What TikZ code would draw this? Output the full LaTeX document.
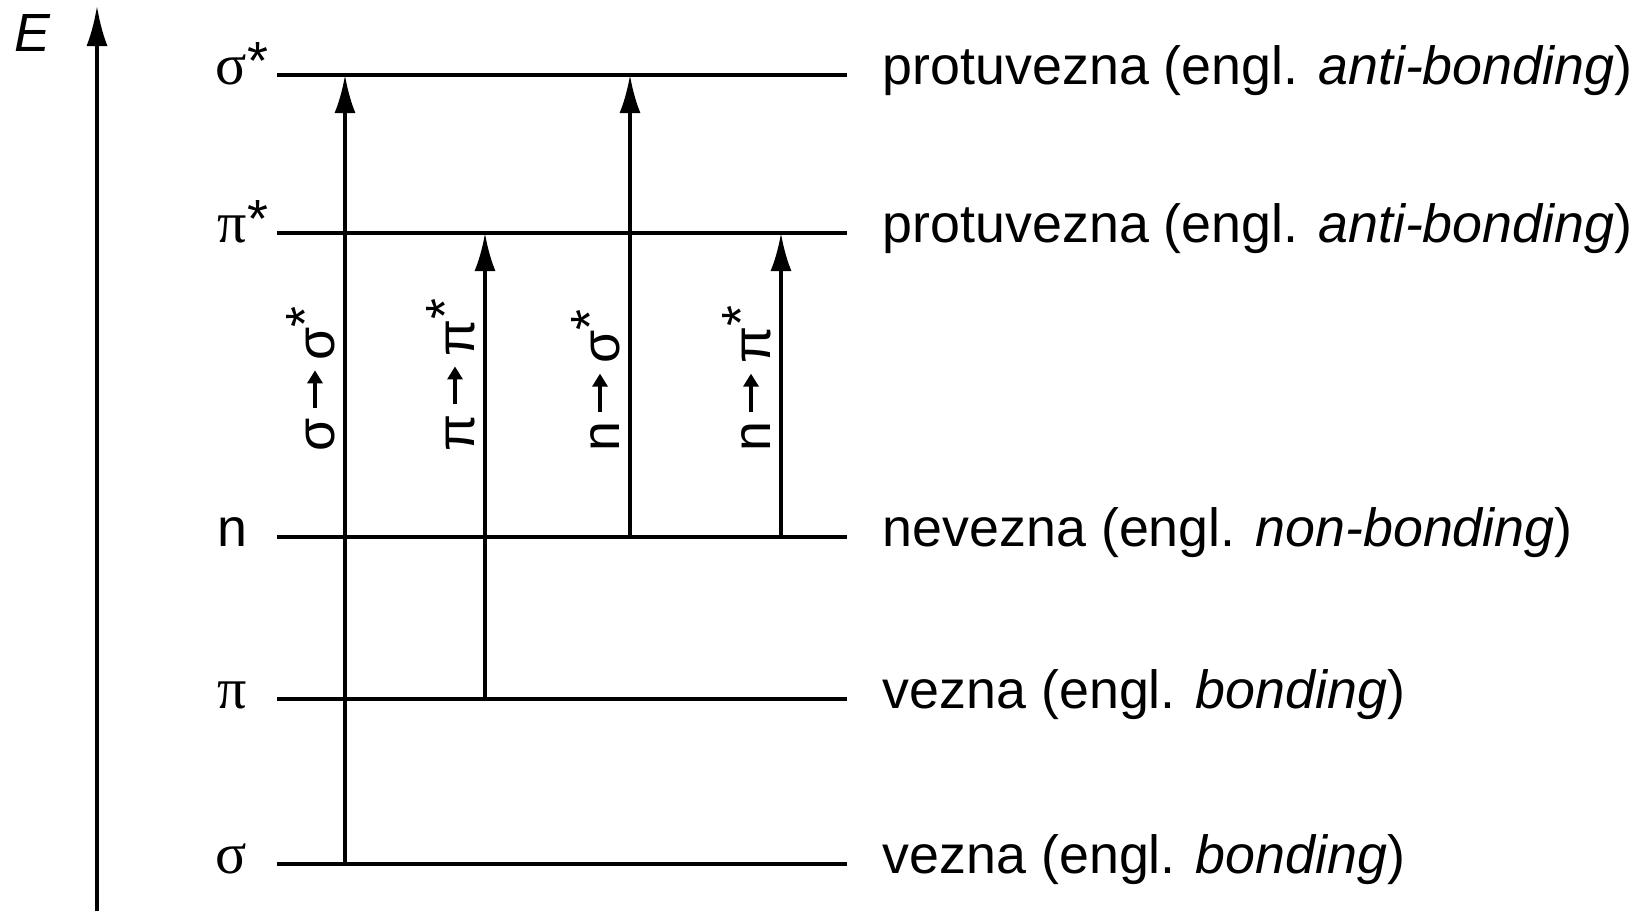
\documentclass[tikz,border=0pt]{standalone}
\usepackage{fontspec}
\setmainfont{Liberation Sans}
\newfontfamily\grk[Scale=1.08]{Liberation Serif}
\usetikzlibrary{arrows.meta}
\newcommand\uparr{\kern0.08cm\tikz[baseline=-0.19cm]\draw[line width=1pt,-{Triangle[length=1.3mm,width=1.5mm]}] (0,0) -- (0.38,0);\kern0.08cm}

\begin{document}
\begin{tikzpicture}[font=\fontsize{15.3}{18}\selectfont,
	lev/.style={line width=1.1pt},
	trans/.style={line width=1pt,-{Latex[length=3.8mm,width=2.1mm]}},
	sym/.style={anchor=mid east,inner sep=0pt,xshift=-2.9mm},
	txt/.style={anchor=mid west,inner sep=0pt,xshift=3.4mm},
	rot/.style={rotate=90,anchor=base west,inner sep=0pt}]
					\useasboundingbox (0,0) rectangle (16.39,9.11);
					\coordinate(top) at (0.97,9.05);
					\coordinate(bot) at (0.97,0);
					\draw[trans,-{Latex[length=4mm,width=2.1mm]}] (bot) -- (top);
					\node(E)[inner sep=0pt] at (0.32,8.78) {\itshape E};
					\coordinate(ss) at (2.77,8.36);
					\coordinate(pp) at (2.77,6.78);
					\coordinate(n) at (2.77,3.74);
					\coordinate(p) at (2.77,2.12);
					\coordinate(s) at (2.77,0.47);
					\draw[lev] (ss) -- ++(5.7,0) node(ssT)[txt] {protuvezna (engl. \textit{anti-bonding})};
					\draw[lev] (pp) -- ++(5.7,0) node(ppT)[txt] {protuvezna (engl. \textit{anti-bonding})};
					\draw[lev] (n) -- ++(5.7,0) node(nT)[txt] {nevezna (engl. \textit{non-bonding})};
					\draw[lev] (p) -- ++(5.7,0) node(pT)[txt] {vezna (engl. \textit{bonding})};
					\draw[lev] (s) -- ++(5.7,0) node(sT)[txt] {vezna (engl. \textit{bonding})};
						\node(ssL)[sym] at (ss) {{\grk σ}\rlap{\raisebox{0.08em}{*}}};
						\node(ppL)[sym] at (pp) {{\grk π}\rlap{\raisebox{0.08em}{*}}};
						\node(nL)[sym] at (n) {n};
						\node(pL)[sym] at (p) {{\grk π}};
						\node(sL)[sym] at (s) {{\grk σ}};
						\coordinate(c1) at (3.45,0);
						\coordinate(c2) at (4.85,0);
						\coordinate(c3) at (6.30,0);
						\coordinate(c4) at (7.81,0);
						\draw[trans] (s -| c1) -- (ss -| c1);
						\draw[trans] (p -| c2) -- (pp -| c2);
						\draw[trans] (n -| c3) -- (ss -| c3);
						\draw[trans] (n -| c4) -- (pp -| c4);
						\node(t1)[rot] at (3.34,4.59) {σ\uparr σ\raisebox{0.2em}{*}};
						\node(t2)[rot] at (4.74,4.59) {π\uparr π\raisebox{0.2em}{*}};
						\node(t3)[rot] at (6.19,4.59) {n\uparr σ\raisebox{0.2em}{*}};
						\node(t4)[rot] at (7.70,4.59) {n\uparr π\raisebox{0.2em}{*}};
				\end{tikzpicture}
\end{document}
